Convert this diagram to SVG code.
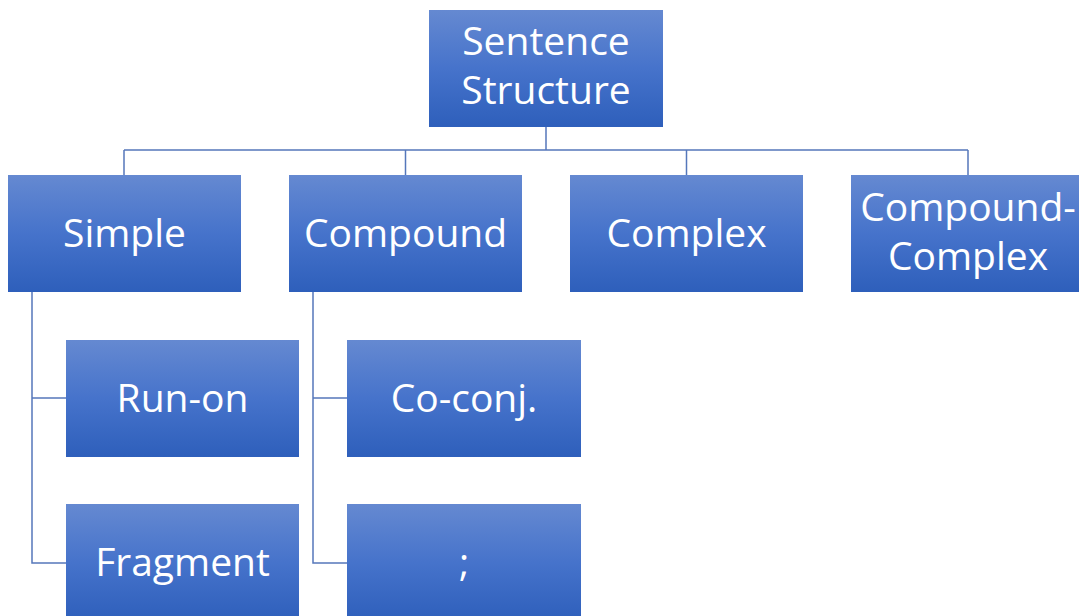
<svg xmlns="http://www.w3.org/2000/svg" width="1079" height="616" viewBox="0 0 1079 616">
<defs>
<linearGradient id="g" x1="0" y1="0" x2="0" y2="1">
<stop offset="0" stop-color="#6589d1"/>
<stop offset="0.5" stop-color="#4673cb"/>
<stop offset="1" stop-color="#2e5fbb"/>
</linearGradient>
</defs>
<style>
.box{fill:url(#g);}
.t{font-family:"Open Sans","Noto Sans",sans-serif;font-size:39px;fill:#ffffff;text-anchor:middle;}
.c{fill:none;stroke:#5577bb;stroke-width:1.5;}
</style>
<rect width="1079" height="616" fill="#ffffff"/>
<g id="connectors">
<path class="c" d="M546 127V150M124 150H968M124 150V175M405.5 150V175M686.5 150V175M968 150V175"/>
<path class="c" d="M32 291V563H66M32 398H66"/>
<path class="c" d="M313 291V563H347M313 398H347"/>
</g>
<g id="root"><rect class="box" x="429" y="10" width="234" height="117"/><text class="t" x="546" y="55">Sentence</text><text class="t" x="546" y="104">Structure</text></g>
<g id="simple"><rect class="box" x="8" y="175" width="233" height="117"/><text class="t" x="124.5" y="247">Simple</text></g>
<g id="compound"><rect class="box" x="289" y="175" width="233" height="117"/><text class="t" x="405.5" y="247">Compound</text></g>
<g id="complex"><rect class="box" x="570" y="175" width="233" height="117"/><text class="t" x="686.5" y="247">Complex</text></g>
<g id="compound-complex"><rect class="box" x="851" y="175" width="234" height="117"/><text class="t" x="968" y="221">Compound-</text><text class="t" x="968" y="270">Complex</text></g>
<g id="run-on"><rect class="box" x="66" y="340" width="233" height="117"/><text class="t" x="182.5" y="412">Run-on</text></g>
<g id="fragment"><rect class="box" x="66" y="504" width="233" height="117"/><text class="t" x="182.5" y="576">Fragment</text></g>
<g id="co-conj"><rect class="box" x="347" y="340" width="234" height="117"/><text class="t" x="464" y="412">Co-conj.</text></g>
<g id="semicolon"><rect class="box" x="347" y="504" width="234" height="117"/><text class="t" x="464" y="576">;</text></g>
</svg>
